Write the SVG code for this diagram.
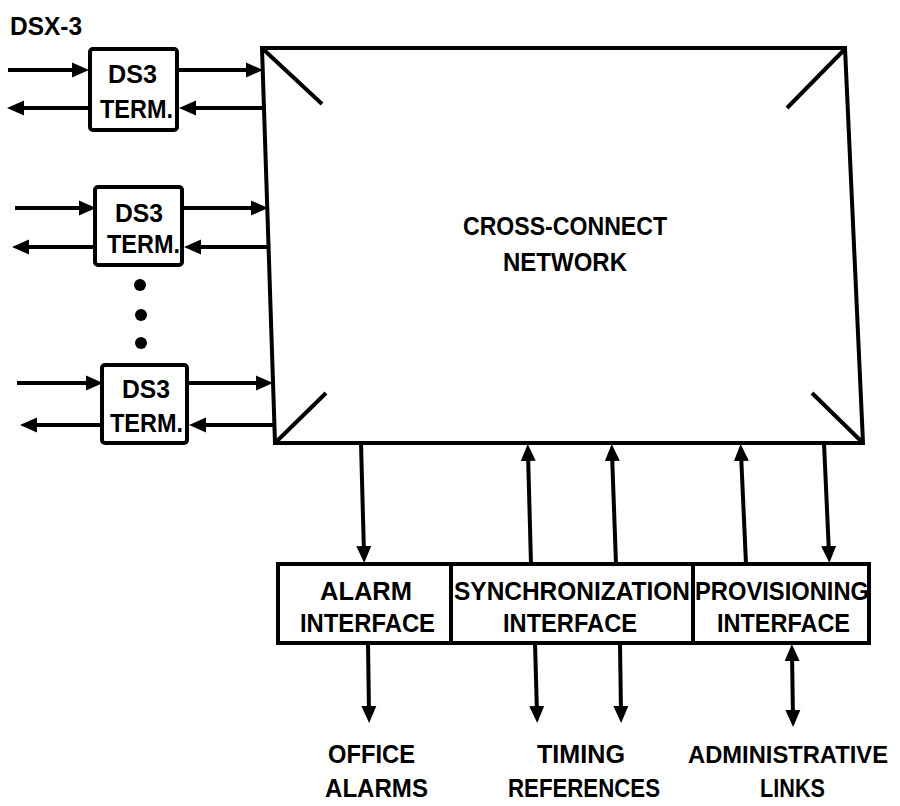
<svg xmlns="http://www.w3.org/2000/svg" width="900" height="806" viewBox="0 0 900 806">
<defs>
<style>
.ln{stroke:#000;stroke-width:4;fill:none}
.box{stroke:#000;stroke-width:4;fill:#fff}
.t{font-family:"Liberation Sans",Arial,sans-serif;font-weight:bold;fill:#000;text-anchor:start}
.s24{font-size:25px}
.s26{font-size:26px}
.arr{marker-end:url(#ah)}
.dbl{marker-end:url(#ah);marker-start:url(#ah)}
</style>
<marker id="ah" markerUnits="userSpaceOnUse" markerWidth="17" markerHeight="17" viewBox="0 0 17 17" refX="8" refY="8.5" orient="auto-start-reverse">
<path d="M0,1 L17,8.5 L0,16 z" fill="#000"/>
</marker>
</defs>
<rect width="900" height="806" fill="#fff"/>

<text class="t s26" x="10" y="35" textLength="72" lengthAdjust="spacingAndGlyphs">DSX-3</text>

<g id="network">
<polygon class="box" points="262,48 845,48 863,443 275,443"/>
<line class="ln" x1="264" y1="50" x2="322" y2="104"/>
<line class="ln" x1="844" y1="50" x2="787" y2="108"/>
<line class="ln" x1="277" y1="441" x2="326" y2="393"/>
<line class="ln" x1="861" y1="441" x2="812" y2="393"/>
<text class="t s24" x="463" y="235" textLength="204" lengthAdjust="spacingAndGlyphs">CROSS-CONNECT</text>
<text class="t s24" x="503" y="271" textLength="124" lengthAdjust="spacingAndGlyphs">NETWORK</text>
</g>

<g id="ds3-1">
<rect class="box" x="90" y="49" width="87" height="81" rx="3"/>
<text class="t s24" x="108" y="83" textLength="49" lengthAdjust="spacingAndGlyphs">DS3</text>
<text class="t s24" x="100" y="118" textLength="73" lengthAdjust="spacingAndGlyphs">TERM.</text>
</g>
<g id="ds3-2">
<rect class="box" x="95" y="187" width="87" height="78" rx="3"/>
<text class="t s24" x="115" y="222" textLength="48" lengthAdjust="spacingAndGlyphs">DS3</text>
<text class="t s24" x="107" y="253" textLength="73" lengthAdjust="spacingAndGlyphs">TERM.</text>
</g>
<g id="ds3-3">
<rect class="box" x="102" y="365" width="85" height="78" rx="3"/>
<text class="t s24" x="122" y="398" textLength="48" lengthAdjust="spacingAndGlyphs">DS3</text>
<text class="t s24" x="110" y="432" textLength="73" lengthAdjust="spacingAndGlyphs">TERM.</text>
</g>

<g id="dots">
<circle cx="140" cy="285" r="6" fill="#000"/>
<circle cx="141" cy="315" r="6" fill="#000"/>
<circle cx="141" cy="343" r="6" fill="#000"/>
</g>

<g id="interfaces">
<rect class="box" x="278" y="564" width="591" height="79"/>
<line class="ln" x1="451" y1="564" x2="451" y2="643"/>
<line class="ln" x1="693" y1="564" x2="693" y2="643"/>
<text class="t s26" x="320" y="600" textLength="92" lengthAdjust="spacingAndGlyphs">ALARM</text>
<text class="t s26" x="300" y="632" textLength="135" lengthAdjust="spacingAndGlyphs">INTERFACE</text>
<text class="t s26" x="454" y="600" textLength="236" lengthAdjust="spacingAndGlyphs">SYNCHRONIZATION</text>
<text class="t s26" x="503" y="632" textLength="134" lengthAdjust="spacingAndGlyphs">INTERFACE</text>
<text class="t s26" x="695" y="600" textLength="174" lengthAdjust="spacingAndGlyphs">PROVISIONING</text>
<text class="t s26" x="717" y="632" textLength="133" lengthAdjust="spacingAndGlyphs">INTERFACE</text>
</g>

<g id="labels">
<text class="t s26" x="328" y="763" textLength="87" lengthAdjust="spacingAndGlyphs">OFFICE</text>
<text class="t s26" x="325" y="797" textLength="103" lengthAdjust="spacingAndGlyphs">ALARMS</text>
<text class="t s26" x="537" y="763" textLength="88" lengthAdjust="spacingAndGlyphs">TIMING</text>
<text class="t s26" x="508" y="797" textLength="152" lengthAdjust="spacingAndGlyphs">REFERENCES</text>
<text class="t" style="font-size:24px" x="688" y="763" textLength="200" lengthAdjust="spacingAndGlyphs">ADMINISTRATIVE</text>
<text class="t s26" x="760" y="797" textLength="65" lengthAdjust="spacingAndGlyphs">LINKS</text>
</g>

<g id="connectors">
<line class="ln arr" x1="8" y1="70" x2="80" y2="70"/>
<line class="ln arr" x1="177" y1="70" x2="254" y2="70"/>
<line class="ln arr" x1="263" y1="108" x2="188" y2="108"/>
<line class="ln arr" x1="90" y1="108" x2="16" y2="108"/>
<line class="ln arr" x1="15" y1="208" x2="87" y2="208"/>
<line class="ln arr" x1="182" y1="208" x2="259" y2="208"/>
<line class="ln arr" x1="268" y1="247" x2="193" y2="247"/>
<line class="ln arr" x1="95" y1="247" x2="21" y2="247"/>
<line class="ln arr" x1="17" y1="383" x2="94" y2="383"/>
<line class="ln arr" x1="187" y1="383" x2="264" y2="383"/>
<line class="ln arr" x1="274" y1="425" x2="198" y2="425"/>
<line class="ln arr" x1="102" y1="425" x2="29" y2="425"/>
<line class="ln arr" x1="361" y1="443" x2="364" y2="554"/>
<line class="ln arr" x1="531" y1="564" x2="528" y2="453"/>
<line class="ln arr" x1="616" y1="564" x2="612" y2="453"/>
<line class="ln arr" x1="746" y1="564" x2="741" y2="453"/>
<line class="ln arr" x1="824" y1="443" x2="829" y2="554"/>
<line class="ln arr" x1="368" y1="643" x2="369" y2="714"/>
<line class="ln arr" x1="535" y1="643" x2="537" y2="714"/>
<line class="ln arr" x1="620" y1="643" x2="621" y2="714"/>
<line class="ln dbl" x1="792" y1="653" x2="793" y2="718"/>
</g>
</svg>
